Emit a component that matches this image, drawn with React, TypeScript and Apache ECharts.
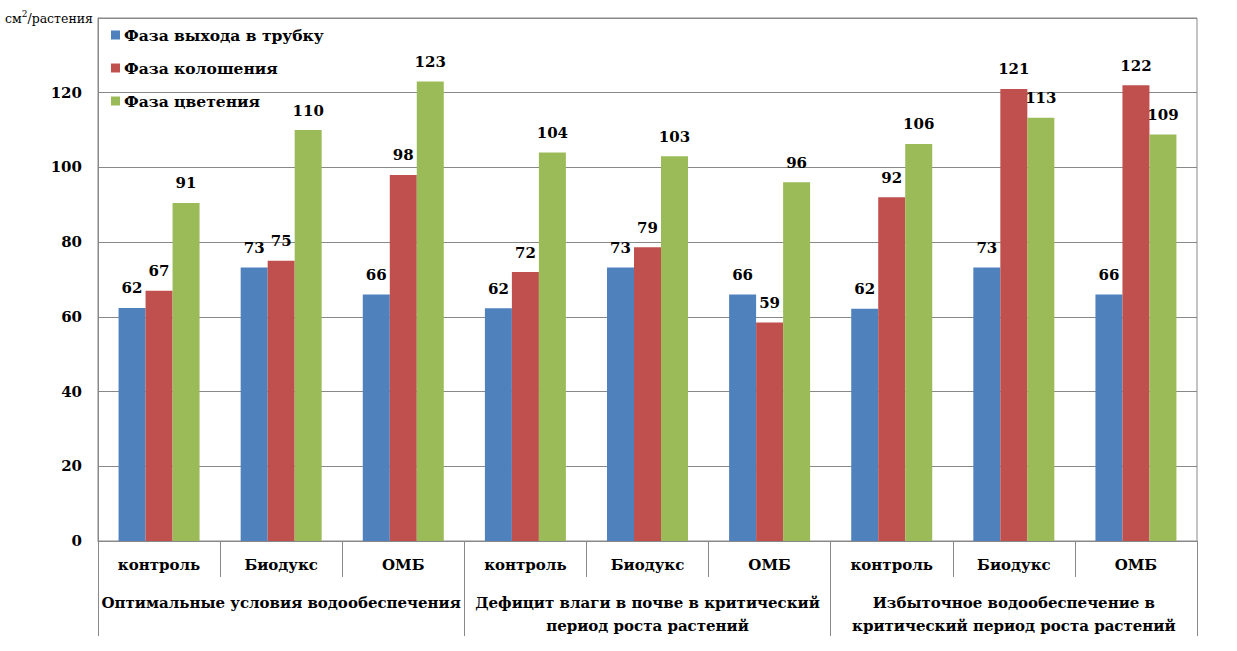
import React, { useEffect, useRef } from "react";
import * as echarts from "echarts";

const categories = ["контроль", "Биодукс", "ОМБ", "контроль", "Биодукс", "ОМБ", "контроль", "Биодукс", "ОМБ"];
const groups = [
  "Оптимальные условия водообеспечения",
  "Дефицит влаги в почве в критический\nпериод роста растений",
  "Избыточное водообеспечение в\nкритический период роста растений",
];
const seriesNames = ["Фаза выхода в трубку", "Фаза колошения", "Фаза цветения"];
const phaseTube = [62.4, 73.2, 66, 62.3, 73.2, 66, 62.2, 73.2, 66];
const phaseEar = [67, 75, 98, 72, 78.6, 58.5, 92, 121, 122];
const phaseBloom = [90.5, 110, 123, 104, 103, 96, 106.3, 113.3, 108.8];
const colors = ["#4F81BD", "#C0504D", "#9BBB59"];

const FONT = "DejaVu Serif";

export default function App() {
  const ref = useRef<HTMLDivElement>(null);
  useEffect(() => {
    if (!ref.current) return;
    const chart = echarts.init(ref.current, null, { renderer: "svg" });
    const mk = (name: string, data: number[], i: number) => ({
      name,
      type: "bar",
      xAxisIndex: 0,
      data,
      barWidth: 27,
      barGap: "0%",
      itemStyle: { color: colors[i] },
      label: {
        show: true,
        position: "top",
        distance: 12,
        fontFamily: FONT,
        fontWeight: "bold",
        fontSize: 15,
        color: "#000",
        formatter: (p: any) => String(Math.round(p.value)),
      },
    });
    chart.setOption({
      animation: false,
      backgroundColor: "#fff",
      textStyle: { fontFamily: FONT },
      grid: { left: 98, right: 40, top: 18, bottom: 110, show: true, borderColor: "#888", borderWidth: 1 },
      legend: {
        orient: "vertical",
        left: 106,
        top: 22,
        itemWidth: 9,
        itemHeight: 9,
        itemGap: 17,
        icon: "rect",
        textStyle: { fontFamily: FONT, fontWeight: "bold", fontSize: 15.5, color: "#000", padding: [0, 0, 0, -1] },
        data: seriesNames,
      },
      graphic: [
        {
          type: "text",
          left: 5,
          top: 9,
          style: {
            text: "{a|см}{b|2}{a|/растения}",
            rich: {
              a: { fontFamily: FONT, fontSize: 12.5, color: "#000", lineHeight: 18 },
              b: { fontFamily: FONT, fontSize: 9, color: "#000", verticalAlign: "top", lineHeight: 10 },
            },
          },
        },
      ],
      xAxis: [
        {
          type: "category",
          data: categories,
          axisLine: { lineStyle: { color: "#888" } },
          axisTick: { show: true, length: 36, interval: 0, lineStyle: { color: "#888" } },
          axisLabel: {
            interval: 0,
            margin: 14,
            lineHeight: 20,
            fontFamily: FONT,
            fontWeight: "bold",
            fontSize: 15,
            color: "#000",
          },
        },
        {
          type: "category",
          position: "bottom",
          data: groups,
          axisLine: { show: false },
          axisTick: { show: true, length: 95, interval: 0, lineStyle: { color: "#888" } },
          axisLabel: {
            interval: 0,
            margin: 50,
            lineHeight: 23,
            fontFamily: FONT,
            fontWeight: "bold",
            fontSize: 15,
            color: "#000",
          },
        },
      ],
      yAxis: {
        type: "value",
        min: 0,
        max: 140,
        interval: 20,
        axisLine: { show: true, lineStyle: { color: "#888" } },
        axisTick: { show: false },
        splitLine: { lineStyle: { color: "#888" } },
        axisLabel: {
          margin: 16,
          fontFamily: FONT,
          fontWeight: "bold",
          fontSize: 15,
          color: "#000",
          formatter: (v: number) => (v >= 140 ? "" : String(v)),
        },
      },
      series: [mk(seriesNames[0], phaseTube, 0), mk(seriesNames[1], phaseEar, 1), mk(seriesNames[2], phaseBloom, 2)],
    });
    return () => chart.dispose();
  }, []);
  return <div ref={ref} style={{ position: "fixed", left: 0, top: 0, width: 1237, height: 651, background: "#fff" }} />;
}
